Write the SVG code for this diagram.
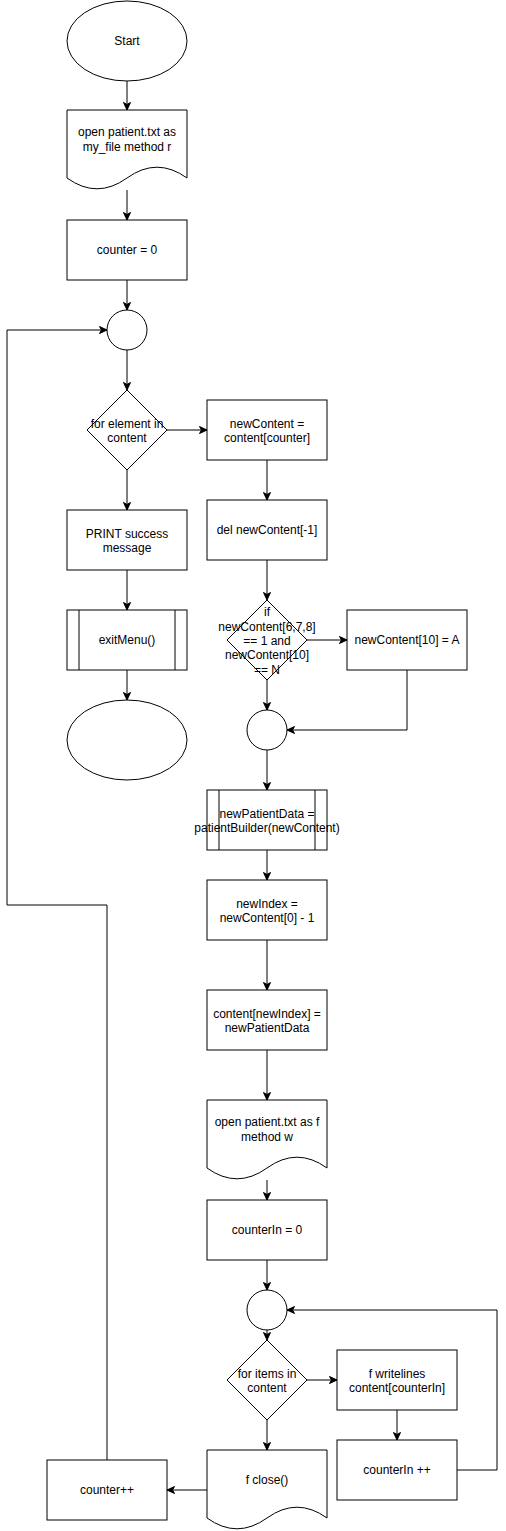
<svg xmlns="http://www.w3.org/2000/svg" width="506" height="1531" viewBox="0 0 506 1531">
<style>
.s{fill:#fff;stroke:#000;stroke-width:1}
.t{font-family:"Liberation Sans",Arial,Helvetica,sans-serif;font-size:12px;fill:#000;text-anchor:middle}
.c{fill:none;stroke:#000;stroke-width:1;marker-end:url(#a)}
</style>
<defs>
<marker id="a" markerUnits="userSpaceOnUse" markerWidth="9" markerHeight="9" viewBox="0 0 9 9" refX="8" refY="4.5" orient="auto">
<path d="M0.5,1 L8,4.5 L0.5,8 L2.5,4.5 Z" fill="#000" stroke="#000" stroke-width="1"/>
</marker>
</defs>
<rect width="506" height="1531" fill="#fff"/>
<g id="connectors">
<path class="c" d="M127,81 L127,110"/>
<path class="c" d="M127,190 L127,220"/>
<path class="c" d="M127,280 L127,310"/>
<path class="c" d="M127,350 L127,390"/>
<path class="c" d="M167,430 L207,430"/>
<path class="c" d="M127,470 L127,510"/>
<path class="c" d="M127,570 L127,610"/>
<path class="c" d="M127,670 L127,700"/>
<path class="c" d="M267,460 L267,500"/>
<path class="c" d="M267,560 L267,600"/>
<path class="c" d="M307,640 L347,640"/>
<path class="c" d="M267,680 L267,710"/>
<path class="c" d="M407,670 L407,730 L287,730"/>
<path class="c" d="M267,750 L267,790"/>
<path class="c" d="M267,850 L267,880"/>
<path class="c" d="M267,940 L267,990"/>
<path class="c" d="M267,1050 L267,1100"/>
<path class="c" d="M267,1180 L267,1200"/>
<path class="c" d="M267,1260 L267,1290"/>
<path class="c" d="M267,1330 L267,1340"/>
<path class="c" d="M307,1380 L337,1380"/>
<path class="c" d="M397,1410 L397,1440"/>
<path class="c" d="M457,1470 L497,1470 L497,1310 L287,1310"/>
<path class="c" d="M267,1420 L267,1450"/>
<path class="c" d="M207,1490 L167,1490"/>
<path class="c" d="M107,1460 L107,905 L7,905 L7,330 L107,330"/>
</g>
<g id="start">
<ellipse class="s" cx="127" cy="41" rx="60" ry="40"/>
<text class="t" x="127" y="45">Start</text>
</g>
<g id="open-file-r">
<path class="s" d="M67,110 L187,110 L187,178 Q157,156.4 127,178 Q97,199.6 67,178 Z"/>
<text class="t" x="127" y="136">open patient.txt as</text>
<text class="t" x="127" y="150.5">my_file method r</text>
</g>
<g id="counter0">
<rect class="s" x="67" y="220" width="120" height="60"/>
<text class="t" x="127" y="254">counter = 0</text>
</g>
<g id="junction1">
<circle class="s" cx="127" cy="330" r="20"/>
</g>
<g id="for-element">
<path class="s" d="M127,390 L167,430 L127,470 L87,430 Z"/>
<text class="t" x="127" y="428">for element in</text>
<text class="t" x="127" y="442">content</text>
</g>
<g id="print-success">
<rect class="s" x="67" y="510" width="120" height="60"/>
<text class="t" x="127" y="537.5">PRINT success</text>
<text class="t" x="127" y="552">message</text>
</g>
<g id="exit-menu">
<rect class="s" x="67" y="610" width="120" height="60"/>
<path class="s" d="M79,610 L79,670 M175,610 L175,670"/>
<text class="t" x="127" y="644">exitMenu()</text>
</g>
<g id="end">
<ellipse class="s" cx="127" cy="740" rx="60" ry="40"/>
</g>
<g id="new-content">
<rect class="s" x="207" y="400" width="120" height="60"/>
<text class="t" x="267" y="427.5">newContent =</text>
<text class="t" x="267" y="442">content[counter]</text>
</g>
<g id="del-new-content">
<rect class="s" x="207" y="500" width="120" height="60"/>
<text class="t" x="267" y="534">del newContent[-1]</text>
</g>
<g id="if-diamond">
<path class="s" d="M267,600 L307,640 L267,680 L227,640 Z"/>
<text class="t" x="267" y="616">if</text>
<text class="t" x="267" y="630.5">newContent[6,7,8]</text>
<text class="t" x="267" y="645">== 1 and</text>
<text class="t" x="267" y="659">newContent[10]</text>
<text class="t" x="267" y="673.5">== N</text>
</g>
<g id="set-a">
<rect class="s" x="347" y="610" width="120" height="60"/>
<text class="t" x="407" y="644">newContent[10] = A</text>
</g>
<g id="junction2">
<circle class="s" cx="267" cy="730" r="20"/>
</g>
<g id="patient-builder">
<rect class="s" x="207" y="790" width="120" height="60"/>
<path class="s" d="M219,790 L219,850 M315,790 L315,850"/>
<text class="t" x="267" y="817.5">newPatientData =</text>
<text class="t" x="267" y="832">patientBuilder(newContent)</text>
</g>
<g id="new-index">
<rect class="s" x="207" y="880" width="120" height="60"/>
<text class="t" x="267" y="907.5">newIndex =</text>
<text class="t" x="267" y="922">newContent[0] - 1</text>
</g>
<g id="content-assign">
<rect class="s" x="207" y="990" width="120" height="60"/>
<text class="t" x="267" y="1017.5">content[newIndex] =</text>
<text class="t" x="267" y="1032">newPatientData</text>
</g>
<g id="open-file-w">
<path class="s" d="M207,1100 L327,1100 L327,1168 Q297,1146.4 267,1168 Q237,1189.6 207,1168 Z"/>
<text class="t" x="267" y="1126">open patient.txt as f</text>
<text class="t" x="267" y="1140.5">method w</text>
</g>
<g id="counter-in0">
<rect class="s" x="207" y="1200" width="120" height="60"/>
<text class="t" x="267" y="1234">counterIn = 0</text>
</g>
<g id="junction3">
<circle class="s" cx="267" cy="1310" r="20"/>
</g>
<g id="for-items">
<path class="s" d="M267,1340 L307,1380 L267,1420 L227,1380 Z"/>
<text class="t" x="267" y="1378">for items in</text>
<text class="t" x="267" y="1392">content</text>
</g>
<g id="writelines">
<rect class="s" x="337" y="1350" width="120" height="60"/>
<text class="t" x="397" y="1377.5">f writelines</text>
<text class="t" x="397" y="1392">content[counterIn]</text>
</g>
<g id="counter-in-inc">
<rect class="s" x="337" y="1440" width="120" height="60"/>
<text class="t" x="397" y="1474">counterIn ++</text>
</g>
<g id="f-close">
<path class="s" d="M207,1450 L327,1450 L327,1518 Q297,1496.4 267,1518 Q237,1539.6 207,1518 Z"/>
<text class="t" x="267" y="1484">f close()</text>
</g>
<g id="counter-inc">
<rect class="s" x="47" y="1460" width="120" height="60"/>
<text class="t" x="107" y="1494">counter++</text>
</g>
</svg>
